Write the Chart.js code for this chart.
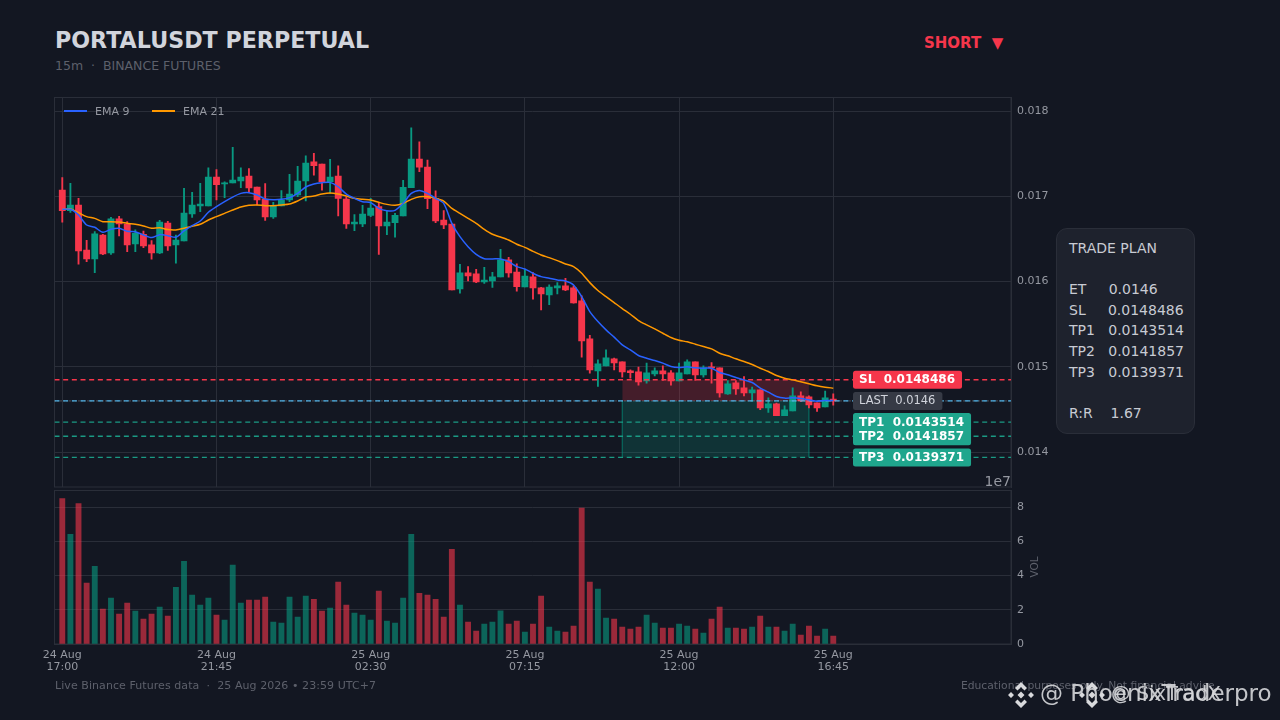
<!DOCTYPE html>
<html>
<head>
<meta charset="utf-8">
<title>PORTALUSDT PERPETUAL</title>
<script src="https://cdn.jsdelivr.net/npm/chart.js@4/dist/chart.umd.min.js"></script>
<style>
    html, body { margin: 0; padding: 0; width: 1280px; height: 720px; overflow: hidden; background: #131722; font-family: "DejaVu Sans", sans-serif; }
    .abs { position: absolute; white-space: pre; }
    #priceWrap { position: absolute; left: 0; top: 90px; width: 1060px; height: 398px; }
    #volWrap { position: absolute; left: 0; top: 484px; width: 1060px; height: 200px; }
    #plan { position: absolute; left: 1056px; top: 228px; width: 139px; height: 206px; box-sizing: border-box; background: #1e222d; border: 1px solid #2a2e39; border-radius: 11px; padding: 9px 0 0 12px; font-size: 14px; line-height: 20.6px; color: #c8cbd3; white-space: pre; }
    .key { position: absolute; top: 110.3px; width: 23px; height: 1.5px; }
    .keyText { position: absolute; top: 105px; font-size: 11px; color: #9598a1; }
</style>
</head>
<body>
<div class="abs" style="left:55px;top:27px;font-size:22.2px;font-weight:bold;color:#d1d4dc;">PORTALUSDT PERPETUAL</div>
<div class="abs" style="left:55px;top:58px;font-size:12.5px;color:#5d606b;">15m  ·  BINANCE FUTURES</div>
<div class="abs" style="left:924px;top:34px;font-size:15px;font-weight:bold;color:#f6364b;">SHORT  ▼</div>

<div id="priceWrap"><canvas id="priceChart"></canvas></div>
<div id="volWrap"><canvas id="volChart"></canvas></div>

<div class="key" style="left:64px;background:#2962ff;"></div>
<div class="keyText" style="left:95px;">EMA 9</div>
<div class="key" style="left:152px;background:#ff9800;"></div>
<div class="keyText" style="left:183px;">EMA 21</div>

<div class="abs" style="right:269px;top:473px;font-size:14px;color:#9598a1;">1e7</div>
<div class="abs" style="left:1023px;top:561px;font-size:10.5px;color:#5d606b;transform:rotate(-90deg);transform-origin:center;">VOL</div>

<div id="plan">TRADE PLAN

ET     0.0146
SL     0.0148486
TP1   0.0143514
TP2   0.0141857
TP3   0.0139371

R:R    1.67</div>

<div class="abs" style="left:55px;top:679px;font-size:11px;letter-spacing:0.07px;color:#5d606b;">Live Binance Futures data  ·  25 Aug 2026 • 23:59 UTC+7</div>
<div class="abs" style="right:62px;top:679px;font-size:10.75px;color:#5d606b;">Educational purposes only. Not financial advice.</div>

<svg class="abs" style="left:1007px;top:681px;" width="28" height="28" viewBox="0 0 28 28" fill="#d8d9dc">
    <path d="M14 1l6 6-2.5 2.5L14 6 10.500 9.500 8 7z M14 27l6-6-2.500-2.500L14 22l-3.500-3.500L8 21z M1 14l3-3 3 3-3 3z M21 14l3-3 3 3-3 3z M14 10.500l3.500 3.500-3.500 3.500-3.500-3.500z"/>
</svg>
<div class="abs" style="left:1040px;top:680px;font-size:23px;color:#d8d9dc;opacity:.9;">@ PhoenixTraderpro</div>
<svg class="abs" style="left:1078px;top:681px;" width="28" height="28" viewBox="0 0 28 28" fill="#d8d9dc">
    <path d="M14 1l6 6-2.5 2.5L14 6 10.500 9.500 8 7z M14 27l6-6-2.500-2.500L14 22l-3.500-3.500L8 21z M1 14l3-3 3 3-3 3z M21 14l3-3 3 3-3 3z M14 10.500l3.500 3.500-3.500 3.500-3.500-3.500z"/>
</svg>
<div class="abs" style="left:1111px;top:682px;font-size:19.5px;color:#d8d9dc;opacity:.9;">@ SixTradX</div>

<script>
// Candle data, 15m bars
const opens = [
    0.017075, 0.016832, 0.016899, 0.016371, 0.016266, 0.016547, 0.016336, 0.016735, 0.016676, 0.016442,
    0.016555, 0.016430, 0.016336, 0.016688, 0.016430, 0.016477, 0.016793, 0.016887, 0.016887, 0.017227,
    0.017145, 0.017157, 0.017180, 0.017239, 0.017110, 0.016969, 0.016758, 0.016887, 0.016957, 0.017016,
    0.017180, 0.017406, 0.017379, 0.017172, 0.017238, 0.016969, 0.016676, 0.016676, 0.016777, 0.016879,
    0.016652, 0.016691, 0.016770, 0.017102, 0.017438, 0.017344, 0.016973, 0.016723, 0.016676, 0.015914,
    0.016102, 0.016090, 0.015996, 0.016008, 0.016055, 0.016254, 0.016113, 0.015937, 0.016055, 0.015926,
    0.015844, 0.015926, 0.015949, 0.015926, 0.015773, 0.015328, 0.014953, 0.015012, 0.015094, 0.015058,
    0.014953, 0.014941, 0.014836, 0.014918, 0.014953, 0.014930, 0.014836, 0.014918, 0.015058, 0.014906,
    0.014996, 0.014988, 0.014683, 0.014812, 0.014754, 0.014695, 0.014730, 0.014519, 0.014566, 0.014426,
    0.014484, 0.014660, 0.014648, 0.014578, 0.014531, 0.014621
];
const highs = [
    0.017219, 0.017153, 0.016977, 0.016485, 0.016586, 0.016555, 0.016754, 0.016766, 0.016703, 0.016606,
    0.016594, 0.016481, 0.016719, 0.016707, 0.016547, 0.017094, 0.017047, 0.017153, 0.017336, 0.017313,
    0.017172, 0.017575, 0.017336, 0.017325, 0.017110, 0.017149, 0.016930, 0.017067, 0.017258, 0.017352,
    0.017477, 0.017504, 0.017379, 0.017434, 0.017359, 0.016996, 0.016785, 0.016895, 0.016977, 0.016918,
    0.016824, 0.016801, 0.017188, 0.017805, 0.017641, 0.017426, 0.017066, 0.016832, 0.016676, 0.016203,
    0.016176, 0.016144, 0.016168, 0.016109, 0.016379, 0.016285, 0.016207, 0.016144, 0.016105, 0.015934,
    0.015961, 0.015988, 0.016039, 0.015949, 0.015832, 0.015371, 0.015082, 0.015199, 0.015102, 0.015058,
    0.014965, 0.014996, 0.015043, 0.014988, 0.015012, 0.014957, 0.015043, 0.015082, 0.015058, 0.015012,
    0.015051, 0.014988, 0.014840, 0.014840, 0.014886, 0.014761, 0.014730, 0.014637, 0.014574, 0.014543,
    0.014754, 0.014707, 0.014660, 0.014578, 0.014715, 0.014683
];
const lows = [
    0.016696, 0.016813, 0.016203, 0.016234, 0.016106, 0.016315, 0.016320, 0.016535, 0.016352, 0.016352,
    0.016399, 0.016262, 0.016328, 0.016367, 0.016215, 0.016477, 0.016754, 0.016821, 0.016887, 0.016957,
    0.016985, 0.017157, 0.017102, 0.017047, 0.016899, 0.016719, 0.016742, 0.016887, 0.016938, 0.016996,
    0.016946, 0.017250, 0.017074, 0.017035, 0.016770, 0.016625, 0.016598, 0.016645, 0.016762, 0.016320,
    0.016551, 0.016520, 0.016770, 0.017102, 0.017289, 0.016855, 0.016691, 0.016621, 0.015902, 0.015863,
    0.016008, 0.015988, 0.015980, 0.015933, 0.016055, 0.016051, 0.015887, 0.015937, 0.015793, 0.015668,
    0.015730, 0.015855, 0.015895, 0.015746, 0.015113, 0.014926, 0.014769, 0.015012, 0.014965, 0.014879,
    0.014867, 0.014785, 0.014808, 0.014894, 0.014840, 0.014785, 0.014836, 0.014918, 0.014840, 0.014879,
    0.014808, 0.014644, 0.014676, 0.014676, 0.014660, 0.014597, 0.014496, 0.014465, 0.014426, 0.014426,
    0.014484, 0.014590, 0.014519, 0.014476, 0.014531, 0.014550
];
const closes = [
    0.016832, 0.016899, 0.016360, 0.016266, 0.016559, 0.016324, 0.016735, 0.016676, 0.016430, 0.016567,
    0.016418, 0.016336, 0.016699, 0.016418, 0.016488, 0.016805, 0.016899, 0.016910, 0.017227, 0.017137,
    0.017160, 0.017192, 0.017227, 0.017098, 0.016957, 0.016758, 0.016887, 0.016957, 0.017028, 0.017180,
    0.017391, 0.017359, 0.017172, 0.017227, 0.016977, 0.016676, 0.016699, 0.016793, 0.016863, 0.016652,
    0.016699, 0.016777, 0.017106, 0.017438, 0.017344, 0.016973, 0.016711, 0.016664, 0.015902, 0.016102,
    0.016066, 0.015996, 0.016019, 0.016055, 0.016254, 0.016102, 0.015941, 0.016066, 0.015926, 0.015855,
    0.015937, 0.015949, 0.015902, 0.015750, 0.015305, 0.014965, 0.015035, 0.015105, 0.015047, 0.014941,
    0.014930, 0.014824, 0.014930, 0.014953, 0.014918, 0.014836, 0.014930, 0.015058, 0.014906, 0.014988,
    0.014988, 0.014695, 0.014801, 0.014742, 0.014695, 0.014730, 0.014519, 0.014566, 0.014426, 0.014496,
    0.014660, 0.014601, 0.014554, 0.014519, 0.014637, 0.014600
];
const volumes = [
    8.51, 6.41, 8.22, 3.56, 4.55, 2.04, 2.68, 1.75, 2.39, 1.92,
    1.46, 1.75, 2.16, 1.63, 3.32, 4.84, 2.86, 2.27, 2.68, 1.69,
    1.40, 4.61, 2.39, 2.57, 2.57, 2.74, 1.28, 1.22, 2.74, 1.57,
    2.80, 2.62, 1.92, 2.10, 3.62, 2.27, 1.81, 1.69, 1.40, 3.09,
    1.34, 1.22, 2.68, 6.41, 2.97, 2.86, 2.62, 1.57, 5.54, 2.27,
    1.28, 0.76, 1.17, 1.28, 1.94, 1.17, 1.34, 0.70, 1.17, 2.80,
    0.99, 0.76, 0.70, 1.05, 7.95, 3.62, 3.21, 1.52, 1.46, 0.99,
    0.87, 0.99, 1.69, 1.22, 0.93, 0.93, 1.17, 1.05, 0.87, 0.64,
    1.46, 2.16, 0.93, 0.93, 0.87, 0.99, 1.63, 0.99, 0.99, 0.76,
    1.17, 0.52, 1.05, 0.47, 0.87, 0.47
];
const ema9 = [
    0.016848, 0.016848, 0.016781, 0.016664, 0.016637, 0.016578, 0.016613, 0.016625, 0.016590, 0.016586,
    0.016547, 0.016516, 0.016551, 0.016539, 0.016520, 0.016594, 0.016656, 0.016711, 0.016813, 0.016879,
    0.016938, 0.016992, 0.017035, 0.017043, 0.017016, 0.016969, 0.016961, 0.016965, 0.016985, 0.017035,
    0.017110, 0.017145, 0.017160, 0.017164, 0.017113, 0.017027, 0.016977, 0.016938, 0.016926, 0.016859,
    0.016832, 0.016836, 0.016918, 0.017035, 0.017070, 0.017035, 0.016977, 0.016918, 0.016684, 0.016527,
    0.016410, 0.016320, 0.016269, 0.016266, 0.016266, 0.016234, 0.016176, 0.016148, 0.016098, 0.016058,
    0.016039, 0.016019, 0.016008, 0.015961, 0.015824, 0.015648, 0.015531, 0.015434, 0.015348, 0.015258,
    0.015199, 0.015133, 0.015101, 0.015074, 0.015043, 0.015004, 0.014992, 0.015000, 0.014988, 0.014984,
    0.014984, 0.014933, 0.014906, 0.014875, 0.014847, 0.014816, 0.014750, 0.014703, 0.014652, 0.014633,
    0.014637, 0.014629, 0.014613, 0.014597, 0.014605, 0.014605
];
const ema21 = [
    0.016848, 0.016852, 0.016809, 0.016762, 0.016742, 0.016703, 0.016703, 0.016699, 0.016684, 0.016672,
    0.016653, 0.016625, 0.016633, 0.016610, 0.016606, 0.016625, 0.016649, 0.016672, 0.016723, 0.016762,
    0.016801, 0.016840, 0.016875, 0.016895, 0.016899, 0.016891, 0.016891, 0.016899, 0.016910, 0.016946,
    0.016992, 0.017004, 0.017027, 0.017039, 0.017027, 0.017004, 0.016977, 0.016965, 0.016957, 0.016930,
    0.016906, 0.016895, 0.016918, 0.016965, 0.016996, 0.016996, 0.016977, 0.016945, 0.016859, 0.016801,
    0.016742, 0.016684, 0.016613, 0.016555, 0.016523, 0.016488, 0.016438, 0.016402, 0.016355, 0.016312,
    0.016281, 0.016246, 0.016207, 0.016176, 0.016098, 0.015988, 0.015895, 0.015824, 0.015754, 0.015684,
    0.015617, 0.015543, 0.015492, 0.015445, 0.015394, 0.015344, 0.015312, 0.015293, 0.015266, 0.015238,
    0.015211, 0.015160, 0.015129, 0.015094, 0.015062, 0.015027, 0.014984, 0.014945, 0.014898, 0.014867,
    0.014847, 0.014824, 0.014801, 0.014777, 0.014761, 0.014750
];

// Trade levels
const entryPrice = 0.0146;
const lastPrice = 0.0146;
const stopLoss = 0.0148486;
const takeProfits = [0.0143514, 0.0141857, 0.0139371];

// Axes
const tickIndexes = [0, 19, 38, 57, 76, 95];
const tickLabels = [['24 Aug', '17:00'], ['24 Aug', '21:45'], ['25 Aug', '02:30'], ['25 Aug', '07:15'], ['25 Aug', '12:00'], ['25 Aug', '16:45']];
const priceTicks = [0.014, 0.015, 0.016, 0.017, 0.018];
const volumeTicks = [0, 2, 4, 6, 8];
const xMin = -0.96;
const xMax = 116.9;
const zoneStart = 69;
const zoneEnd = 92;

// Price tags at the right of the chart
const tagTexts = ['SL  0.0148486', 'LAST  0.0146', 'TP1  0.0143514', 'TP2  0.0141857', 'TP3  0.0139371'];
const tagLevels = [stopLoss, lastPrice, takeProfits[0], takeProfits[1], takeProfits[2]];

const RED = '#f6364b';
const GREEN = '#089981';
const TP_GREEN = '#1fa68d';
const TP_LINE = '#1b9a84';
const GRID = '#2a2e39';
const TICK_COLOR = '#9598a1';
const FONT = '"DejaVu Sans", sans-serif';
const DASH = [5, 3.67];

const candleColors = closes.map((c, i) => (c >= opens[i] ? GREEN : RED));
const volumeColors = closes.map((c, i) => (c >= opens[i] ? 'rgba(8, 153, 129, 0.6)' : 'rgba(246, 54, 75, 0.6)'));

function levelLine(label, value, color, dash) {
    return {
        type: 'line',
        label: label,
        data: [{ x: xMin, y: value }, { x: xMax, y: value }],
        borderColor: color,
        borderWidth: 1.3,
        borderDash: dash,
        pointRadius: 0,
        order: 4
    };
}

function zone(label, value, color) {
    return {
        type: 'line',
        label: label,
        data: [{ x: zoneStart, y: value }, { x: zoneEnd, y: value }],
        borderWidth: 0,
        pointRadius: 0,
        fill: { value: entryPrice },
        backgroundColor: color,
        order: 9
    };
}

// Side edge of a shaded zone
function zoneEdge(label, x, value, color) {
    return {
        type: 'line',
        label: label,
        data: [{ x: x, y: entryPrice }, { x: x, y: value }],
        borderColor: color,
        borderWidth: 1,
        pointRadius: 0,
        order: 8
    };
}

// Keep the plot area exact: labels must not push it inwards
function noScalePadding(scale) {
    scale.paddingTop = 0;
    scale.paddingBottom = 0;
    scale.paddingLeft = 0;
    scale.paddingRight = 0;
}

// Outline of the plot area
const frame = {
    id: 'frame',
    beforeDatasetsDraw(chart) {
        const { ctx, chartArea: a } = chart;
        ctx.save();
        ctx.strokeStyle = GRID;
        ctx.lineWidth = 1;
        ctx.strokeRect(a.left, a.top, a.right - a.left, a.bottom - a.top);
        ctx.restore();
    }
};

const priceTags = {
    id: 'priceTags',
    afterDatasetsDraw(chart) {
        const { ctx } = chart;
        const yScale = chart.scales.y;
        ctx.save();
        ctx.textBaseline = 'middle';
        tagTexts.forEach((text, i) => {
            const isLast = text.startsWith('LAST');
            const y = yScale.getPixelForValue(tagLevels[i]);
            ctx.font = isLast ? '11.5px ' + FONT : 'bold 12px ' + FONT;
            const w = ctx.measureText(text).width + 13;
            ctx.fillStyle = text.startsWith('SL') ? RED : isLast ? '#363a45' : TP_GREEN;
            ctx.beginPath();
            ctx.roundRect(853, y - 9, w, 18, 2.5);
            ctx.fill();
            ctx.fillStyle = isLast ? '#d1d4dc' : '#ffffff';
            ctx.fillText(text, 859, y + 0.5);
        });
        ctx.restore();
    }
};

const sharedX = {
    type: 'linear',
    min: xMin,
    max: xMax,
    offset: false,
    afterBuildTicks(scale) {
        scale.ticks = tickIndexes.map(v => ({ value: v }));
    }
};

new Chart(document.getElementById('priceChart'), {
    type: 'bar',
    data: {
        datasets: [
            {
                type: 'line', label: 'EMA 9',
                data: ema9.map((v, i) => ({ x: i, y: v })),
                borderColor: '#2962ff', backgroundColor: '#2962ff',
                borderWidth: 1.5, pointRadius: 0, tension: 0.25, order: 1
            },
            {
                type: 'line', label: 'EMA 21',
                data: ema21.map((v, i) => ({ x: i, y: v })),
                borderColor: '#ff9800', backgroundColor: '#ff9800',
                borderWidth: 1.5, pointRadius: 0, tension: 0.25, order: 2
            },
            levelLine('SL', stopLoss, RED, DASH),
            levelLine('ET', entryPrice, '#4fb3e8', DASH),
            levelLine('LAST', lastPrice, 'rgba(255, 255, 255, 0.4)', [1, 2]),
            levelLine('TP1', takeProfits[0], TP_LINE, DASH),
            levelLine('TP2', takeProfits[1], TP_LINE, DASH),
            levelLine('TP3', takeProfits[2], TP_LINE, DASH),
            {
                label: 'body',
                data: opens.map((o, i) => ({ x: i, y: [o, closes[i]] })),
                backgroundColor: candleColors,
                barThickness: 6.2, minBarLength: 1, grouped: false, order: 6
            },
            {
                label: 'wick',
                data: lows.map((l, i) => ({ x: i, y: [l, highs[i]] })),
                backgroundColor: candleColors,
                barThickness: 1.2, grouped: false, order: 7
            },
            zoneEdge('reward left', zoneStart, takeProfits[2], 'rgba(8, 153, 129, 0.3)'),
            zoneEdge('reward right', zoneEnd, takeProfits[2], 'rgba(8, 153, 129, 0.3)'),
            zone('risk', stopLoss, 'rgba(246, 54, 75, 0.22)'),
            zone('reward', takeProfits[2], 'rgba(8, 153, 129, 0.22)')
        ]
    },
    plugins: [frame, priceTags],
    options: {
        responsive: true,
        maintainAspectRatio: false,
        animation: false,
        layout: { padding: { left: 54.5, right: 9, top: 7.5, bottom: 1 } },
        scales: {
            x: Object.assign({}, sharedX, {
                grid: { color: GRID, offset: false, drawTicks: false },
                border: { display: false },
                ticks: { display: false },
                afterFit(scale) { scale.height = 0; noScalePadding(scale); }
            }),
            y: {
                position: 'right',
                min: 0.01359,
                max: 0.01816,
                grid: { color: GRID, drawTicks: false },
                border: { color: GRID },
                ticks: {
                    color: TICK_COLOR, padding: 6,
                    font: { family: FONT, size: 11 },
                    callback: value => value.toFixed(3)
                },
                afterBuildTicks(scale) {
                    scale.ticks = priceTicks.map(v => ({ value: v }));
                },
                afterFit(scale) { scale.width = 40; noScalePadding(scale); }
            }
        },
        plugins: {
            tooltip: { enabled: false },
            legend: { display: false }
        }
    }
});

new Chart(document.getElementById('volChart'), {
    type: 'bar',
    data: {
        datasets: [{
            label: 'VOL',
            data: volumes.map((v, i) => ({ x: i, y: v })),
            backgroundColor: volumeColors,
            barThickness: 5.2
        }]
    },
    plugins: [frame],
    options: {
        responsive: true,
        maintainAspectRatio: false,
        animation: false,
        layout: { padding: { left: 54.5, right: 9, top: 6.5, bottom: 0 } },
        scales: {
            x: Object.assign({}, sharedX, {
                grid: { display: false, offset: false, drawTicks: false },
                border: { color: GRID },
                ticks: {
                    color: TICK_COLOR, padding: 5,
                    maxRotation: 0, autoSkip: false,
                    font: { family: FONT, size: 11, lineHeight: 1.1 },
                    callback: (value, index) => tickLabels[index]
                },
                afterFit(scale) { scale.height = 40; noScalePadding(scale); }
            }),
            y: {
                position: 'right',
                min: 0,
                max: 8.98,
                grid: { color: GRID, drawTicks: false },
                border: { color: GRID },
                ticks: {
                    color: TICK_COLOR, padding: 6,
                    font: { family: FONT, size: 11 }
                },
                afterBuildTicks(scale) {
                    scale.ticks = volumeTicks.map(v => ({ value: v }));
                },
                afterFit(scale) { scale.width = 40; noScalePadding(scale); }
            }
        },
        plugins: {
            tooltip: { enabled: false },
            legend: { display: false }
        }
    }
});
</script>
</body>
</html>
